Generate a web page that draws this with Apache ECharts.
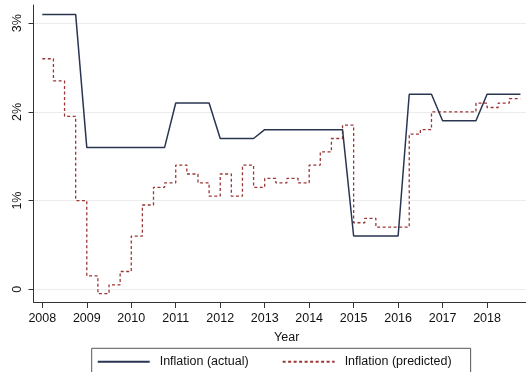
<!DOCTYPE html>
<html>
<head>
<meta charset="utf-8">
<script src="https://cdn.jsdelivr.net/npm/echarts@6/dist/echarts.min.js"></script>
<style>
  html, body { margin: 0; padding: 0; background: #fff; }
  #chart { width: 526px; height: 372px; }
</style>
</head>
<body>
<div id="chart"></div>
<script>
// Quarterly observations, as decimal years
const quarters = [
  2008, 2008.25, 2008.5, 2008.75,
  2009, 2009.25, 2009.5, 2009.75,
  2010, 2010.25, 2010.5, 2010.75,
  2011, 2011.25, 2011.5, 2011.75,
  2012, 2012.25, 2012.5, 2012.75,
  2013, 2013.25, 2013.5, 2013.75,
  2014, 2014.25, 2014.5, 2014.75,
  2015, 2015.25, 2015.5, 2015.75,
  2016, 2016.25, 2016.5, 2016.75,
  2017, 2017.25, 2017.5, 2017.75,
  2018, 2018.25, 2018.5, 2018.75
];

// Inflation, percent
const inflationActual = [
  3.1, 3.1, 3.1, 3.1,
  1.6, 1.6, 1.6, 1.6,
  1.6, 1.6, 1.6, 1.6,
  2.1, 2.1, 2.1, 2.1,
  1.7, 1.7, 1.7, 1.7,
  1.8, 1.8, 1.8, 1.8,
  1.8, 1.8, 1.8, 1.8,
  0.6, 0.6, 0.6, 0.6,
  0.6, 2.2, 2.2, 2.2,
  1.9, 1.9, 1.9, 1.9,
  2.2, 2.2, 2.2, 2.2
];

const inflationPredicted = [
  2.6, 2.35, 1.95, 1.0,
  0.15, -0.05, 0.05, 0.2,
  0.6, 0.95, 1.15, 1.2,
  1.4, 1.3, 1.2, 1.05,
  1.3, 1.05, 1.4, 1.15,
  1.25, 1.2, 1.25, 1.2,
  1.4, 1.55, 1.7, 1.85,
  0.75, 0.8, 0.7, 0.7,
  0.7, 1.75, 1.8, 2.0,
  2.0, 2.0, 2.0, 2.1,
  2.05, 2.1, 2.15, 2.15
];

// Axis ticks
const yearTicks = [2008, 2009, 2010, 2011, 2012, 2013, 2014, 2015, 2016, 2017, 2018];
const pctTicks = [0, 1, 2, 3];

const FONT = '"Liberation Sans", Arial, Helvetica, sans-serif';
const AXIS_COLOR = '#333';

const chart = echarts.init(document.getElementById('chart'), null, { renderer: 'canvas' });

chart.setOption({
  animation: false,
  backgroundColor: '#ffffff',
  textStyle: { fontFamily: FONT, color: '#111' },
  // plot area runs past the right edge of the canvas
  grid: { left: 33.5, top: 5, width: 506.5, height: 297, containLabel: false, outerBoundsMode: 'none' },
  xAxis: {
    type: 'value',
    min: 2007.802,
    max: 2019.19,
    name: 'Year',
    nameLocation: 'middle',
    nameGap: 29,
    nameTextStyle: { fontFamily: FONT, fontSize: 12.5, color: '#111' },
    axisLine: { show: true, onZero: false, lineStyle: { color: AXIS_COLOR, width: 1 } },
    axisTick: { show: true, length: 6, customValues: yearTicks, lineStyle: { color: AXIS_COLOR } },
    axisLabel: {
      customValues: yearTicks,
      margin: 10,
      fontFamily: FONT, fontSize: 12.5, color: '#111',
      formatter: v => String(Math.round(v))
    },
    splitLine: { show: false }
  },
  yAxis: {
    type: 'value',
    min: -0.144,
    max: 3.206,
    axisLine: { show: true, onZero: false, lineStyle: { color: AXIS_COLOR, width: 1 } },
    axisTick: { show: true, length: 5, customValues: pctTicks, lineStyle: { color: AXIS_COLOR } },
    axisLabel: {
      customValues: pctTicks,
      rotate: 90,
      margin: 9,
      fontFamily: FONT, fontSize: 12.5, color: '#111',
      formatter: v => (Math.round(v) === 0 ? '0' : Math.round(v) + '%')
    },
    splitLine: { show: true, lineStyle: { color: '#ececec', width: 1 } }
  },
  legend: {
    left: 91.7,
    top: 348.3,
    orient: 'horizontal',
    padding: [7, 19, 7, 5],
    itemGap: 33,
    itemWidth: 52,
    itemHeight: 14,
    borderColor: '#555',
    borderWidth: 1,
    itemStyle: { opacity: 0 },
    textStyle: { fontFamily: FONT, fontSize: 12.5, color: '#111', padding: [0, 0, 0, 5] },
    data: ['Inflation (actual)', 'Inflation (predicted)']
  },
  series: [
    {
      name: 'Inflation (actual)',
      type: 'line',
      data: quarters.map((q, i) => [q, inflationActual[i]]),
      symbol: 'none',
      lineStyle: { color: '#2a3552', width: 1.5 },
      itemStyle: { color: '#2a3552' },
      z: 3
    },
    {
      name: 'Inflation (predicted)',
      type: 'line',
      step: 'end',
      data: quarters.map((q, i) => [q, inflationPredicted[i]]),
      symbol: 'none',
      lineStyle: { color: '#9c3636', width: 1.3, type: [3, 2.5] },
      itemStyle: { color: '#9c3636' },
      z: 2
    }
  ]
});
</script>
</body>
</html>
